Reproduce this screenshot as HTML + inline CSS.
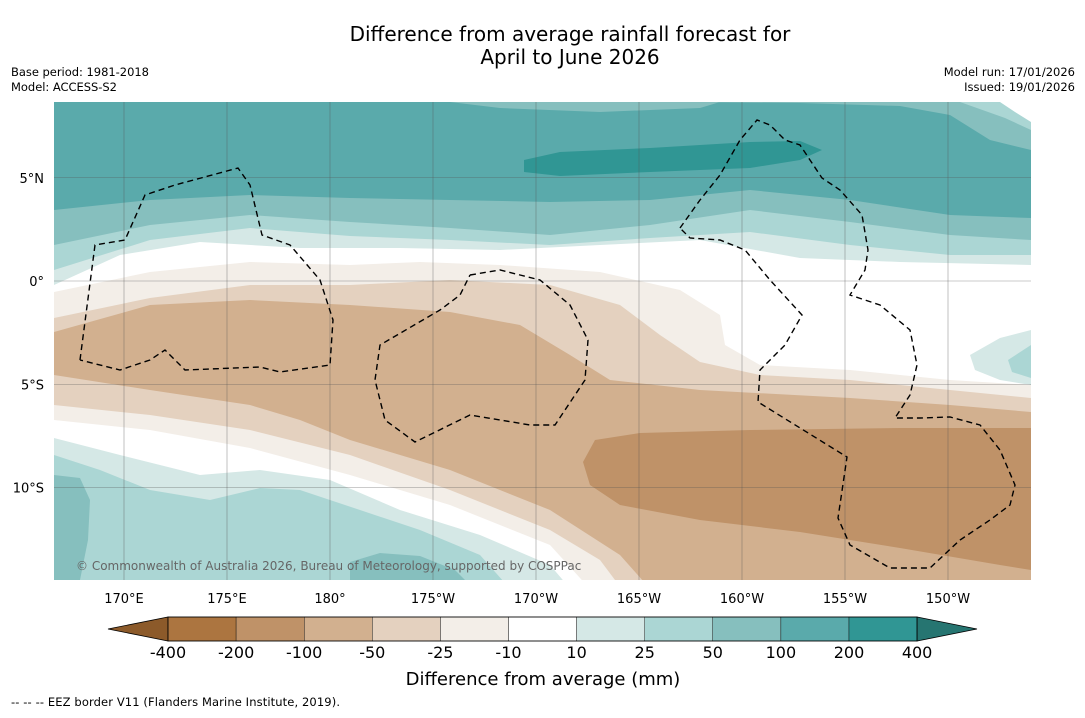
<!DOCTYPE html>
<html><head><meta charset="utf-8"><style>
body{margin:0;background:#fff;width:1085px;height:713px;overflow:hidden;font-family:"Liberation Sans","DejaVu Sans",sans-serif}
svg text{font-family:"DejaVu Sans","Liberation Sans",sans-serif}
</style></head><body>
<svg id="chart" width="1085" height="713" viewBox="0 0 1085 713" xmlns="http://www.w3.org/2000/svg">
<text x="570" y="41" font-size="20" text-anchor="middle">Difference from average rainfall forecast for</text>
<text x="570" y="64" font-size="20" text-anchor="middle">April to June 2026</text>
<text x="11" y="76" font-size="11.5" textLength="138">Base period: 1981-2018</text>
<text x="11" y="91" font-size="11.5" textLength="106">Model: ACCESS-S2</text>
<text x="1075" y="76" font-size="11.5" text-anchor="end">Model run: 17/01/2026</text>
<text x="1075" y="91" font-size="11.5" text-anchor="end">Issued: 19/01/2026</text>
<defs><clipPath id="mapclip"><rect x="54" y="102" width="977" height="478"/></clipPath></defs>
<g id="map" clip-path="url(#mapclip)"></g>
<g id="axes"></g>
<g id="cbar"></g>
<text x="543" y="685" font-size="18" text-anchor="middle">Difference from average (mm)</text>
<text x="11" y="706" font-size="11.5" textLength="329">--  --  -- EEZ border V11 (Flanders Marine Institute, 2019).</text>
</svg>
<script>
const binLabels=["-400","-200","-100","-50","-25","-10","10","25","50","100","200","400"];
const binColors=["#ac7540","#bf9268","#d2b08f","#e4d1bf","#f3eee8","#ffffff","#d5e8e6","#abd6d4","#86bfbe","#5aaaab","#309694"];
const lowColor="#8c5a2a", highColor="#267571";
const lonTicks=[170,175,180,-175,-170,-165,-160,-155,-150];
const lonLabels=["170°E","175°E","180°","175°W","170°W","165°W","160°W","155°W","150°W"];
const latTicks=[5,0,-5,-10];
const latLabels=["5°N","0°","5°S","10°S"];
const NS="http://www.w3.org/2000/svg";
function lonX(l){const e=l<0?l+360:l;return 124+(e-170)*20.6;}
function latY(a){return 281-a*20.65;}
function el(t,a,p){const e=document.createElementNS(NS,t);for(const k in a)e.setAttribute(k,a[k]);p.appendChild(e);return e;}
const map=document.getElementById('map');
function pts(a){return a.map(p=>p.join(',')).join(' ');}
function below(curve,color,name){
  const c=curve.slice();const last=c[c.length-1],first=c[0];
  const poly=c.concat([[last[0],600],[first[0],600]]);
  const p=el('polygon',{points:pts(poly),fill:color},map);
  
  
}
function blob(poly,color,name){
  const p=el('polygon',{points:pts(poly),fill:color},map);
  
  
}
const C=binColors;
el('rect',{x:54,y:102,width:977,height:478,fill:C[9]},map);
blob([[450,102],[720,102],[700,108],[600,112],[500,108]],C[8],'band-50-top');
blob([[680,102],[1031,102],[1031,150],[990,140],[950,115],[900,106],[800,103]],C[8],'band-50-northeast');
blob([[960,102],[1031,102],[1031,130],[1005,118]],C[7],'band-25-northeast');
blob([[1000,102],[1031,102],[1031,122],[1015,112]],"#ffffff",'band-white-northeast');
blob([[524,160],[560,152],[650,148],[750,142],[800,141],[822,150],[800,160],[750,168],[650,172],[560,176],[524,172]],C[10],'band-200-north');
below([[54,210],[150,200],[250,195],[350,198],[450,200],[550,202],[650,200],[750,190],[850,200],[950,215],[1031,218]],C[8],'band-50');
below([[54,245],[150,225],[250,215],[350,222],[450,228],[550,235],[650,225],[750,210],[850,222],[950,235],[1031,240]],C[7],'band-25');
below([[54,270],[150,240],[250,228],[350,236],[450,240],[550,245],[650,238],[750,232],[850,245],[950,255],[1031,255]],C[6],'band-10');
below([[54,285],[120,255],[200,242],[300,248],[400,248],[500,250],[600,245],[700,240],[800,258],[900,262],[1031,265]],C[5],'band-white');
blob([[970,355],[1000,338],[1031,330],[1031,385],[1000,380],[975,370]],C[6],'band-10-east');
blob([[1008,360],[1031,345],[1031,378],[1012,372]],C[7],'band-25-east');
below([[54,292],[150,272],[250,262],[350,265],[420,262],[500,265],[600,272],[680,290],[720,315],[725,345],[760,365],[850,370],[950,380],[1031,385]],C[4],'band-minus25');
below([[54,318],[150,298],[250,285],[350,285],[450,280],[550,285],[620,305],[660,335],[700,362],[760,375],[850,380],[950,390],[1031,398]],C[3],'band-minus50');
below([[54,332],[150,305],[250,300],[350,305],[450,312],[520,325],[570,355],[610,380],[700,390],[850,398],[950,405],[1031,412]],C[2],'band-minus100');
blob([[583,462],[595,440],[640,433],[750,430],[900,428],[1031,428],[1031,570],[1000,565],[900,548],[800,532],[700,520],[620,505],[590,485]],C[1],'band-minus200');
below([[54,375],[150,390],[250,405],[300,420],[350,440],[450,470],[550,510],[620,555],[660,600]],C[3],'band-minus50-south');
below([[54,405],[150,415],[250,430],[350,455],[450,490],[550,530],[600,560],[630,600]],C[4],'band-minus25-south');
below([[54,420],[150,430],[250,448],[350,475],[450,505],[550,545],[600,600]],C[5],'band-white-south');
below([[54,438],[120,455],[200,475],[260,470],[330,480],[400,510],[480,535],[550,565],[580,600]],C[6],'band-10-south');
below([[54,455],[100,470],[150,490],[210,500],[260,488],[300,490],[360,510],[420,530],[480,555],[520,600]],C[7],'band-25-south');
blob([[54,475],[80,478],[90,500],[88,540],[80,580],[54,580]],C[8],'band-50-southwest');
blob([[350,562],[380,553],[420,556],[455,570],[465,580],[350,580]],C[8],'band-50-south');
lonTicks.forEach((l,i)=>{const x=lonX(l);
 const g=el('line',{x1:x,y1:102,x2:x,y2:580,stroke:'#555','stroke-width':0.6,'stroke-opacity':0.6},map);
 
 const t=el('text',{x:x,y:603,'font-size':13,'text-anchor':'middle'},document.getElementById('axes'));t.textContent=lonLabels[i];
 });
latTicks.forEach((a,i)=>{const y=latY(a);
 const g=el('line',{x1:54,y1:y,x2:1031,y2:y,stroke:'#555','stroke-width':0.6,'stroke-opacity':0.6},map);
 
 const t=el('text',{x:44,y:y+5,'font-size':13,'text-anchor':'end'},document.getElementById('axes'));t.textContent=latLabels[i];
 });
const eez=[
[[80,360],[95,245],[125,240],[145,195],[175,185],[238,168],[250,185],[262,235],[290,245],[320,280],[333,320],[330,365],[280,372],[260,367],[185,370],[165,350],[150,360],[120,370],[80,360]],
[[470,275],[500,270],[540,280],[570,305],[588,340],[585,380],[565,410],[555,425],[530,425],[470,415],[415,442],[385,420],[375,380],[380,345],[440,310],[460,295],[470,275]],
[[680,228],[700,200],[720,175],[740,140],[757,120],[770,125],[785,140],[800,145],[822,178],[840,190],[862,215],[868,250],[865,270],[850,295],[880,305],[910,330],[917,365],[910,395],[895,418],[920,418],[950,417],[980,425],[1000,450],[1015,485],[1010,505],[990,520],[960,540],[930,568],[890,568],[850,545],[838,518],[847,457],[758,402],[760,370],[785,345],[802,315],[770,280],[745,250],[720,240],[690,238],[680,228]]];
eez.forEach(p=>{const l=el('polyline',{points:pts(p),fill:'none',stroke:'#000','stroke-width':1.4,'stroke-dasharray':'6,4'},map);
 });
const cp=el('text',{x:76,y:570,'font-size':12,fill:'#666'},map);cp.textContent='© Commonwealth of Australia 2026, Bureau of Meteorology, supported by COSPPac';

const cb=document.getElementById('cbar');const x0=168,w=68.1,y0=617,h=24;
const lt=el('polygon',{points:`108,629 ${x0},${y0} ${x0},${y0+h}`,fill:lowColor,stroke:'#000','stroke-width':0.8},cb);

binColors.forEach((c,i)=>{const r=el('rect',{x:x0+i*w,y:y0,width:w,height:h,fill:c,stroke:'#000','stroke-width':0.4},cb);
 });
const xe=x0+binColors.length*w;
const rt=el('polygon',{points:`${xe},${y0} 977,629 ${xe},${y0+h}`,fill:highColor,stroke:'#000','stroke-width':0.8},cb);

el('rect',{x:x0,y:y0,width:xe-x0,height:h,fill:'none',stroke:'#000','stroke-width':0.8},cb);
binLabels.forEach((s,i)=>{const t=el('text',{x:x0+i*w,y:658,'font-size':16,'text-anchor':'middle'},cb);t.textContent=s;
 });
</script>
</body></html>
